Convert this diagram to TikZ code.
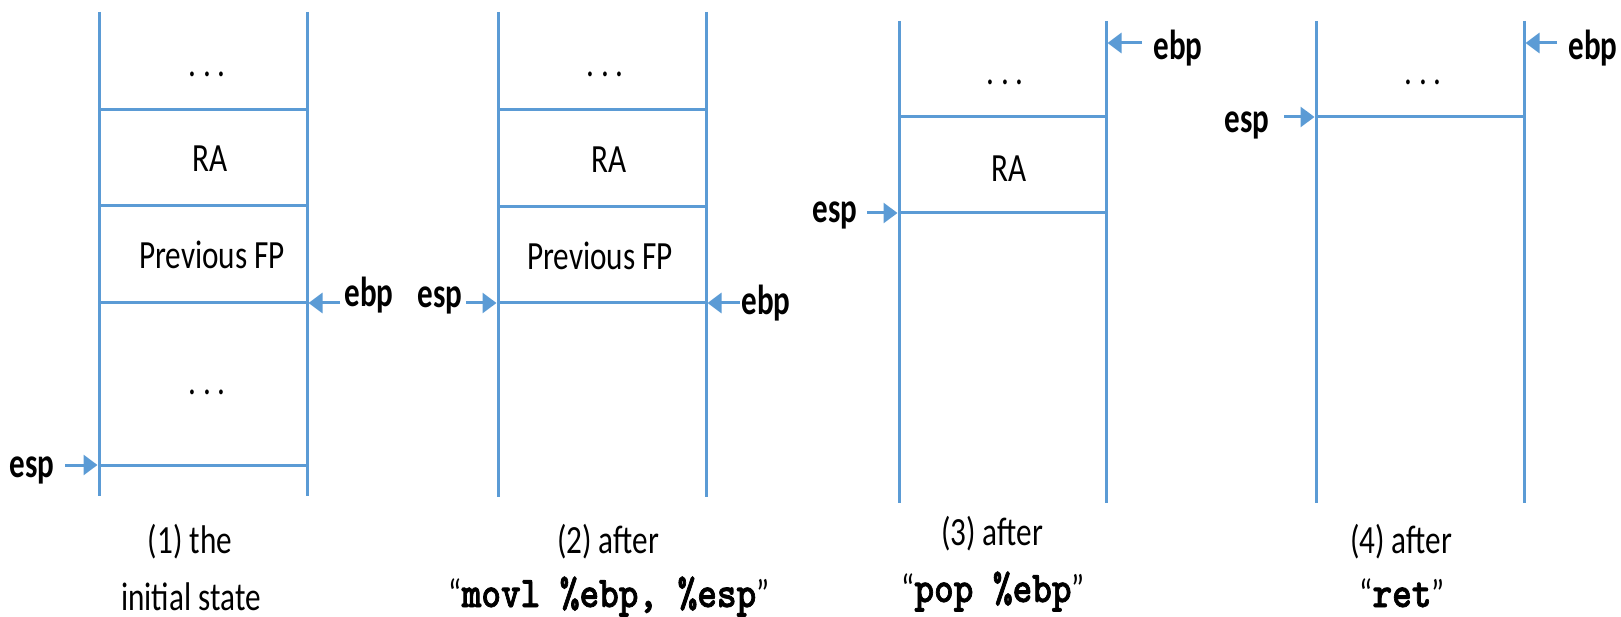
\documentclass[tikz,border=0pt]{standalone}
\usepackage{fontspec}
\setmainfont{Carlito}[FakeStretch=0.78]
\newfontfamily\regfamily{Carlito}[FakeStretch=0.74]
\newfontfamily\codefamily{lmmonolt10-bold.otf}[FakeStretch=0.85, FakeBold=1.6]
\usetikzlibrary{arrows.meta}
\definecolor{stackblue}{RGB}{91,155,213}

\tikzset{
  wall/.style={draw=stackblue, line width=3pt},
  slot/.style={draw=stackblue, line width=3pt},
  ptr/.style={draw=stackblue, line width=3pt, -{Triangle[length=14pt,width=20pt]}},
  cell/.style={anchor=base, inner sep=0pt, font=\fontsize{40}{44}\selectfont},
  reg/.style={anchor=base, inner sep=0pt, font=\regfamily\bfseries\fontsize{42}{46}\selectfont},
  caption/.style={anchor=base, inner sep=0pt, font=\fontsize{40}{44}\selectfont},
}
\newcommand{\instr}[1]{{\codefamily\fontsize{44}{48}\selectfont #1}}

\begin{document}
\begin{tikzpicture}[x=1pt, y=-1pt]
\useasboundingbox (0,0) rectangle (1621,617);

% ---------- (1) the initial state ----------
\coordinate (a-tl) at (99,12);  \coordinate (a-bl) at (99,496);
\coordinate (a-tr) at (307,12); \coordinate (a-br) at (307,496);
\draw[wall] (a-tl) -- (a-bl);
\draw[wall] (a-tr) -- (a-br);
\draw[slot] (99,110) -- (307,110);
\draw[slot] (99,206) -- (307,206);
\draw[slot] (99,303) coordinate (a-fpl) -- (307,303) coordinate (a-fpr);
\draw[slot] (99,465) coordinate (a-spl) -- (307,465);
\node[cell] (a-dots) at (207,77) {.\,.\,.};
\node[cell] (a-ra) at (210,172) {RA};
\node[cell] (a-fp) at (212,269) {Previous FP};
\node[cell] (a-dots2) at (207,394) {.\,.\,.};
\node[reg] (a-esp) at (32,477) {esp};
\node[reg] (a-ebp) at (369,307) {ebp};
\coordinate (a-espfrom) at (65,465);
\coordinate (a-ebpfrom) at (340,303);
\draw[ptr] (a-espfrom) -- ([xshift=-1.5pt]a-spl);
\draw[ptr] (a-ebpfrom) -- ([xshift=1.5pt]a-fpr);
\node[caption] (a-cap1) at (190,553) {(1) the};
\node[caption] (a-cap2) at (191,610) {initial state};

% ---------- (2) after movl ----------
\coordinate (b-tl) at (498,12);  \coordinate (b-bl) at (498,497);
\coordinate (b-tr) at (706,12);  \coordinate (b-br) at (706,497);
\draw[wall] (b-tl) -- (b-bl);
\draw[wall] (b-tr) -- (b-br);
\draw[slot] (498,110) -- (706,110);
\draw[slot] (498,207) -- (706,207);
\draw[slot] (498,303) coordinate (b-fpl) -- (706,303) coordinate (b-fpr);
\node[cell] (b-dots) at (605,77) {.\,.\,.};
\node[cell] (b-ra) at (609,173) {RA};
\node[cell] (b-fp) at (600,270) {Previous FP};
\node[reg] (b-esp) at (440,308) {esp};
\node[reg] (b-ebp) at (766,315) {ebp};
\coordinate (b-espfrom) at (466,303);
\coordinate (b-ebpfrom) at (740,303);
\draw[ptr] (b-espfrom) -- ([xshift=-1.5pt]b-fpl);
\draw[ptr] (b-ebpfrom) -- ([xshift=1.5pt]b-fpr);
\node[caption] (b-cap1) at (608,553) {(2) after};
\node[caption] (b-cap2) at (609,607) {“\instr{movl \%ebp, \%esp}”};

% ---------- (3) after pop ----------
\coordinate (c-tl) at (899,21);  \coordinate (c-bl) at (899,503);
\coordinate (c-tr) at (1106,21); \coordinate (c-br) at (1106,503);
\draw[wall] (c-tl) -- (c-bl);
\draw[wall] (c-tr) -- (c-br);
\draw[slot] (899,117) -- (1106,117);
\draw[slot] (899,213) coordinate (c-spl) -- (1106,213);
\coordinate (c-top) at (1106,43);
\node[cell] (c-dots) at (1005,85) {.\,.\,.};
\node[cell] (c-ra) at (1009,182) {RA};
\node[reg] (c-ebp) at (1178,60) {ebp};
\node[reg] (c-esp) at (835,223) {esp};
\coordinate (c-ebpfrom) at (1142,43);
\coordinate (c-espfrom) at (867,213);
\draw[ptr] (c-ebpfrom) -- ([xshift=1.5pt]c-top);
\draw[ptr] (c-espfrom) -- ([xshift=-1.5pt]c-spl);
\node[caption] (c-cap1) at (992,545) {(3) after};
\node[caption] (c-cap2) at (993,602) {“\instr{pop \%ebp}”};

% ---------- (4) after ret ----------
\coordinate (d-tl) at (1316,21); \coordinate (d-bl) at (1316,503);
\coordinate (d-tr) at (1524,21); \coordinate (d-br) at (1524,503);
\draw[wall] (d-tl) -- (d-bl);
\draw[wall] (d-tr) -- (d-br);
\draw[slot] (1316,117) coordinate (d-spl) -- (1524,117);
\coordinate (d-top) at (1524,43);
\node[cell] (d-dots) at (1423,85) {.\,.\,.};
\node[reg] (d-ebp) at (1593,60) {ebp};
\node[reg] (d-esp) at (1247,133) {esp};
\coordinate (d-ebpfrom) at (1557,43);
\coordinate (d-espfrom) at (1284,117);
\draw[ptr] (d-ebpfrom) -- ([xshift=1.5pt]d-top);
\draw[ptr] (d-espfrom) -- ([xshift=-1.5pt]d-spl);
\node[caption] (d-cap1) at (1401,553) {(4) after};
\node[caption] (d-cap2) at (1402,607) {“\instr{ret}”};
\end{tikzpicture}
\end{document}
